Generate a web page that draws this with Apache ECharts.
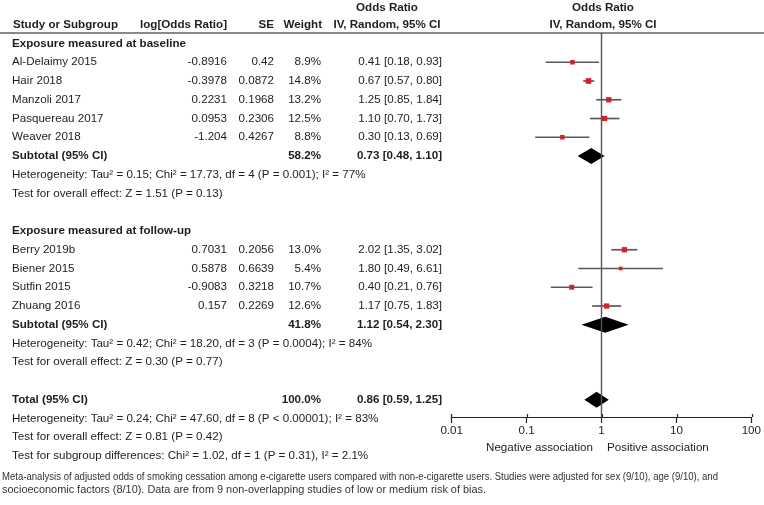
<!DOCTYPE html>
<html>
<head>
<meta charset="utf-8">
<script src="https://cdn.jsdelivr.net/npm/echarts@6/dist/echarts.min.js"></script>
<style>
  html, body { margin: 0; padding: 0; background: #fff; }
  #main { width: 764px; height: 505px; }
</style>
</head>
<body>
<div id="main"></div>
<script>
// ===== data =====
const studyNames = ["Al-Delaimy 2015", "Hair 2018", "Manzoli 2017", "Pasquereau 2017", "Weaver 2018",
                    "Berry 2019b", "Biener 2015", "Sutfin 2015", "Zhuang 2016"];
const studyRows = [1, 2, 3, 4, 5, 11, 12, 13, 14];
const logOR = ["-0.8916", "-0.3978", "0.2231", "0.0953", "-1.204", "0.7031", "0.5878", "-0.9083", "0.157"];
const seVals = ["0.42", "0.0872", "0.1968", "0.2306", "0.4267", "0.2056", "0.6639", "0.3218", "0.2269"];
const weights = [8.9, 14.8, 13.2, 12.5, 8.8, 13.0, 5.4, 10.7, 12.6];
const orVals = [0.41, 0.67, 1.25, 1.10, 0.30, 2.02, 1.80, 0.40, 1.17];
const ciLow = [0.18, 0.57, 0.85, 0.70, 0.13, 1.35, 0.49, 0.21, 0.75];
const ciHigh = [0.93, 0.80, 1.84, 1.73, 0.69, 3.02, 6.61, 0.76, 1.83];

const pooledLabels = ["Subtotal (95% CI)", "Subtotal (95% CI)", "Total (95% CI)"];
const pooledRows = [6, 15, 19];
const pooledWeights = [58.2, 41.8, 100.0];
const pooledOR = [0.73, 1.12, 0.86];
const pooledLow = [0.48, 0.54, 0.59];
const pooledHigh = [1.10, 2.30, 1.25];

const groupTitles = ["Exposure measured at baseline", "Exposure measured at follow-up"];
const groupRows = [0, 10];

const statTexts = [
  "Heterogeneity: Tau\u00b2 = 0.15; Chi\u00b2 = 17.73, df = 4 (P = 0.001); I\u00b2 = 77%",
  "Test for overall effect: Z = 1.51 (P = 0.13)",
  "Heterogeneity: Tau\u00b2 = 0.42; Chi\u00b2 = 18.20, df = 3 (P = 0.0004); I\u00b2 = 84%",
  "Test for overall effect: Z = 0.30 (P = 0.77)",
  "Heterogeneity: Tau\u00b2 = 0.24; Chi\u00b2 = 47.60, df = 8 (P < 0.00001); I\u00b2 = 83%",
  "Test for overall effect: Z = 0.81 (P = 0.42)",
  "Test for subgroup differences: Chi\u00b2 = 1.02, df = 1 (P = 0.31), I\u00b2 = 2.1%"
];
const statRows = [7, 8, 16, 17, 20, 21, 22];

const tickLabels = ["0.01", "0.1", "1", "10", "100"];
const captionLines = [
  "Meta-analysis of adjusted odds of smoking cessation among e-cigarette users compared with non-e-cigarette users. Studies were adjusted for sex (9/10), age (9/10), and",
  "socioeconomic factors (8/10). Data are from 9 non-overlapping studies of low or medium risk of bias."
];
const captionWidths = [716, 484];

// ===== layout =====
const FONT = "Liberation Sans, Arial, sans-serif";
const FS = 11.6;
const INK = "#1e1e1e";
const Y_MIN = -0.56, Y_MAX = 19.92;
const fmtCI = (o, l, h) => `${o.toFixed(2)} [${l.toFixed(2)}, ${h.toFixed(2)}]`;
const plotGrid = { left: 451.7, right: 11.7, top: 33, height: 384 };

const chart = echarts.init(document.getElementById("main"), null, { renderer: "canvas" });

const studyData = studyRows.map((r, i) => [orVals[i], r, ciLow[i], ciHigh[i], weights[i]]);
const pooledData = pooledRows.map((r, i) => [pooledOR[i], r, pooledLow[i], pooledHigh[i]]);

chart.setOption({
  animation: false,
  // grid 1 sits on grid 0 only to carry the short upward tick marks
  grid: [Object.assign({}, plotGrid), Object.assign({}, plotGrid)],
  xAxis: [
    {
      type: "log", logBase: 10, min: 0.01, max: 100, interval: 1, gridIndex: 0, position: "bottom",
      axisLine: { onZero: false, lineStyle: { color: "#222", width: 1.2 } },
      axisTick: { length: 6, lineStyle: { color: "#222", width: 1.2 } },
      splitLine: { show: false },
      axisLabel: {
        margin: 8, color: INK, fontSize: FS, fontFamily: FONT,
        formatter: v => tickLabels[Math.round(Math.log10(v)) + 2]
      }
    },
    {
      type: "log", logBase: 10, min: 0.01, max: 100, interval: 1, gridIndex: 1, position: "bottom",
      axisLine: { show: false, onZero: false },
      axisTick: { inside: true, length: 3, lineStyle: { color: "#222", width: 1.2 } },
      axisLabel: { show: false }, splitLine: { show: false }
    }
  ],
  yAxis: [
    { type: "value", inverse: true, min: Y_MIN, max: Y_MAX, show: false, gridIndex: 0 },
    { type: "value", inverse: true, min: Y_MIN, max: Y_MAX, show: false, gridIndex: 1 }
  ],
  series: [
    {
      type: "custom", silent: true, data: studyData, z: 3,
      renderItem: (params, api) => {
        const y = api.coord([1, api.value(1)])[1];
        const xo = api.coord([api.value(0), api.value(1)])[0];
        const xl = api.coord([api.value(2), api.value(1)])[0];
        const xh = api.coord([api.value(3), api.value(1)])[0];
        const s = 1.25 * Math.sqrt(api.value(4)) + 0.8;
        return {
          type: "group",
          children: [
            { type: "line", shape: { x1: xl, y1: y, x2: xh, y2: y }, style: { stroke: "#5a5a5a", lineWidth: 1.7 } },
            { type: "rect", shape: { x: xo - s / 2, y: y - s / 2, width: s, height: s }, style: { fill: "#d8202a" } }
          ]
        };
      },
      markLine: {
        silent: true, symbol: "none", label: { show: false },
        lineStyle: { color: "#555", width: 1.4, type: "solid" },
        data: [{ xAxis: 1 }]
      }
    },
    {
      type: "custom", silent: true, data: pooledData, z: 4,
      renderItem: (params, api) => {
        const c = api.coord([api.value(0), api.value(1)]);
        const xl = api.coord([api.value(2), api.value(1)])[0];
        const xh = api.coord([api.value(3), api.value(1)])[0];
        const h = 8;
        return {
          type: "polygon",
          shape: { points: [[xl, c[1]], [c[0], c[1] - h], [xh, c[1]], [c[0], c[1] + h]] },
          style: { fill: "#000" }
        };
      }
    }
  ]
});

// ===== table text =====
const rowY = r => chart.convertToPixel({ gridIndex: 0 }, [1, r])[1];
function txt(x, y, s, align, bold) {
  return {
    type: "text", x: x, y: y, silent: true,
    style: {
      text: s, align: align, verticalAlign: "middle",
      fontFamily: FONT, fontSize: FS, fontWeight: bold ? "bold" : "normal", fill: INK
    }
  };
}

const g = [];
// header
g.push({ type: "line", silent: true, shape: { x1: 0, y1: 33, x2: 764, y2: 33 }, style: { stroke: "#8a8a8a", lineWidth: 2 } });
g.push(txt(387, 8, "Odds Ratio", "center", true));
g.push(txt(603, 8, "Odds Ratio", "center", true));
g.push(txt(13, 25, "Study or Subgroup", "left", true));
g.push(txt(227, 25, "log[Odds Ratio]", "right", true));
g.push(txt(274, 25, "SE", "right", true));
g.push(txt(322, 25, "Weight", "right", true));
g.push(txt(387, 25, "IV, Random, 95% CI", "center", true));
g.push(txt(603, 25, "IV, Random, 95% CI", "center", true));

groupTitles.forEach((t, i) => g.push(txt(12, rowY(groupRows[i]), t, "left", true)));
studyNames.forEach((n, i) => {
  const y = rowY(studyRows[i]);
  g.push(txt(12, y, n, "left", false));
  g.push(txt(227, y, logOR[i], "right", false));
  g.push(txt(274, y, seVals[i], "right", false));
  g.push(txt(321, y, weights[i].toFixed(1) + "%", "right", false));
  g.push(txt(442, y, fmtCI(orVals[i], ciLow[i], ciHigh[i]), "right", false));
});
pooledLabels.forEach((n, i) => {
  const y = rowY(pooledRows[i]);
  g.push(txt(12, y, n, "left", true));
  g.push(txt(321, y, pooledWeights[i].toFixed(1) + "%", "right", true));
  g.push(txt(442, y, fmtCI(pooledOR[i], pooledLow[i], pooledHigh[i]), "right", true));
});
statTexts.forEach((t, i) => g.push(txt(12, rowY(statRows[i]), t, "left", false)));

g.push(txt(593, 448, "Negative association", "right", false));
g.push(txt(607, 448, "Positive association", "left", false));

// caption (condensed face in the original: squeeze each line to its width)
const ctx = document.createElement("canvas").getContext("2d");
ctx.font = "10px Liberation Sans";
captionLines.forEach((t, i) => {
  const k = captionWidths[i] / ctx.measureText(t).width;
  g.push({
    type: "text", x: 2, y: 477 + i * 13.5, scaleX: k, silent: true,
    style: { text: t, align: "left", verticalAlign: "middle", fontFamily: "Liberation Sans", fontSize: 10, fill: "#333" }
  });
});

chart.setOption({ graphic: g });
</script>
</body>
</html>
